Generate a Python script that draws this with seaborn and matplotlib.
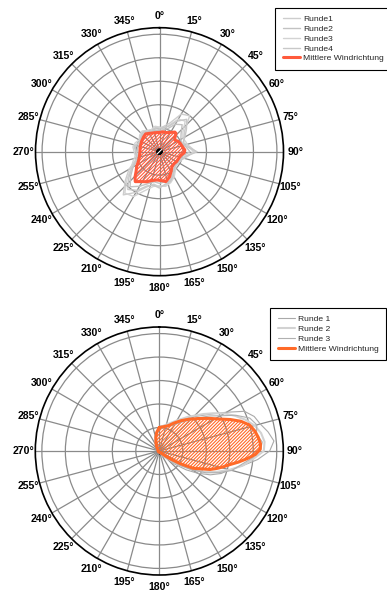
import numpy as np
import pandas as pd
import matplotlib
matplotlib.use("Agg")
import matplotlib.pyplot as plt
import seaborn as sns

# ---------------- data ----------------
ring_values = [1, 2, 3, 4, 5]
r_max = 5.28
angle_ticks = list(range(0, 360, 15))
angle_labels = [f"{a}°" for a in angle_ticks]

# top chart: grey rounds (10 degree steps)
top_round_angles = list(range(0, 360, 10))
top_runde1 = [1.00, 1.10, 1.30, 1.85, 2.00, 1.40, 1.20, 1.10, 1.30, 1.55, 1.10, 0.95,
              0.90, 0.85, 0.95, 1.10, 1.30, 1.45, 1.50, 1.40, 1.60, 2.00, 2.40, 1.90,
              1.50, 1.10, 0.95, 1.00, 1.10, 1.00, 0.95, 1.05, 1.10, 1.00, 0.95, 1.05]
top_runde2 = [0.90, 0.95, 1.05, 1.35, 1.50, 1.20, 1.05, 1.00, 1.15, 1.30, 1.00, 0.90,
              0.85, 0.90, 1.00, 1.20, 1.35, 1.30, 1.35, 1.30, 1.45, 1.70, 1.95, 1.60,
              1.30, 1.00, 0.90, 0.92, 0.95, 0.92, 0.90, 0.98, 1.00, 0.95, 0.90, 0.92]
top_runde3 = [1.05, 1.00, 1.20, 1.60, 1.70, 1.30, 1.15, 1.20, 1.25, 1.45, 1.20, 1.00,
              0.95, 0.92, 1.05, 1.25, 1.40, 1.50, 1.45, 1.50, 1.75, 2.20, 2.30, 1.80,
              1.40, 1.20, 1.05, 1.08, 1.15, 1.10, 1.00, 1.10, 1.15, 1.05, 1.00, 1.10]
top_runde4 = [0.95, 1.05, 1.15, 1.50, 1.80, 1.50, 1.25, 1.05, 1.20, 1.60, 1.15, 1.00,
              0.90, 0.88, 0.98, 1.15, 1.35, 1.40, 1.55, 1.45, 1.55, 1.90, 2.10, 1.70,
              1.35, 1.05, 1.00, 1.00, 1.05, 0.98, 0.92, 1.00, 1.08, 0.98, 0.92, 1.00]
top_mean_angles = [0, 10, 21, 30, 38, 42, 48, 53, 60, 68, 78, 86, 92, 100, 110, 120,
                   130, 140, 150, 158, 163, 168, 175, 185, 195, 203, 212, 219, 224,
                   230, 237, 246, 256, 270, 284, 300, 312, 322, 330, 337, 348]
top_mean_r = [0.82, 0.86, 0.87, 0.95, 1.06, 1.05, 0.88, 0.82, 0.90, 0.95, 1.00, 1.08,
              1.06, 0.92, 0.86, 0.84, 0.80, 0.83, 0.98, 1.15, 1.22, 1.30, 1.24, 1.21,
              1.27, 1.39, 1.50, 1.64, 1.50, 1.30, 1.16, 0.98, 0.88, 0.83, 0.85, 0.88,
              0.92, 0.96, 0.90, 0.86, 0.83]
top_labels = ["Runde1", "Runde2", "Runde3", "Runde4"]
top_colors = ["#cdcdcd", "#c2c2c2", "#d3d3d3", "#c8c8c8"]
top_center_angles = list(range(0, 360, 30))
top_center_r = [0.15] * 12

# bottom chart
bot_round_angles = [0, 10, 20, 30, 40, 50, 55, 60, 65, 70, 75, 80, 85, 90, 95, 100,
                    105, 110, 115, 120, 125, 130, 140, 160, 200, 250, 300, 330, 345]
bot_runde1 = [1.05, 1.10, 1.20, 1.45, 1.85, 2.35, 2.75, 3.30, 4.00, 4.30, 4.45, 4.70,
              4.90, 4.70, 4.20, 3.60, 3.10, 2.80, 2.40, 1.90, 1.40, 0.90, 0.30, 0.08,
              0.05, 0.05, 0.06, 0.30, 0.70]
bot_runde2 = [1.00, 1.10, 1.25, 1.50, 1.90, 2.45, 2.80, 3.20, 3.55, 3.90, 4.20, 4.40,
              4.50, 4.45, 4.00, 3.60, 3.10, 2.60, 2.10, 1.50, 1.00, 0.60, 0.25, 0.08,
              0.05, 0.05, 0.06, 0.28, 0.65]
bot_runde3 = [0.95, 1.00, 1.10, 1.30, 1.65, 2.20, 2.60, 3.00, 3.60, 4.10, 4.30, 4.20,
              4.40, 4.30, 3.90, 3.50, 3.20, 2.70, 2.20, 1.60, 1.05, 0.60, 0.25, 0.10,
              0.05, 0.05, 0.07, 0.30, 0.68]
bot_mean_angles = [0, 10, 20, 28, 36, 43, 50, 57, 62, 66, 70, 74, 78, 82, 86, 89, 92,
                   95, 98, 101, 104, 107, 110, 113, 117, 121, 125, 128, 135, 150, 180,
                   220, 270, 310, 330, 340, 346, 352]
bot_mean_r = [1.00, 1.05, 1.15, 1.35, 1.60, 1.85, 2.15, 2.55, 2.90, 3.30, 3.70, 4.00,
              4.15, 4.25, 4.32, 4.30, 4.10, 3.75, 3.40, 3.05, 2.80, 2.55, 2.30, 1.95,
              1.62, 1.05, 0.60, 0.39, 0.15, 0.08, 0.05, 0.05, 0.05, 0.08, 0.25, 0.42,
              0.60, 0.80]
bot_labels = ["Runde 1", "Runde 2", "Runde 3"]
bot_colors = ["#a9a9a9", "#d2d2d2", "#b0b0b0"]
bot_widths = [0.8, 1.5, 0.8]
bot_center_angles = [120, 140, 160, 180, 200, 160]
bot_center_r = [0.05, 0.18, 0.2, 0.15, 0.05, 0.02]

top_mean_color = "#ff5a3c"
bot_mean_color = "#ff6a28"

# ---------------- style ----------------
sns.set_theme(style="white")
plt.rcParams["font.family"] = ["Liberation Sans", "DejaVu Sans"]
plt.rcParams["hatch.linewidth"] = 0.8

fig = plt.figure(figsize=(3.87, 5.93), dpi=100)
ax_top = fig.add_axes([35.5 / 387, 317.3 / 593, 248 / 387, 248 / 593], projection="polar")
ax_bot = fig.add_axes([35.3 / 387, 18.0 / 593, 248 / 387, 248 / 593], projection="polar")


def closed(angles, radii):
    th = np.deg2rad(list(angles) + [angles[0]])
    rr = list(radii) + [radii[0]]
    return th, rr


def draw(ax, round_angles, rounds, labels, colors, widths, mean_angles, mean_r,
         mean_color, c_angles, c_r):
    th, rr = closed(mean_angles, mean_r)
    ax.fill(th, rr, facecolor="none", edgecolor=mean_color, hatch="//////////", lw=0, zorder=2)
    cth, cr = closed(c_angles, c_r)
    ax.fill(cth, cr, facecolor="black", edgecolor="white", hatch="//////", lw=0, zorder=2)
    for vals, lab, col, w in zip(rounds, labels, colors, widths):
        t, r = closed(round_angles, vals)
        df = pd.DataFrame({"theta": t, "r": r})
        sns.lineplot(data=df, x="theta", y="r", sort=False, estimator=None, ax=ax,
                     color=col, lw=w, label=lab, zorder=3)
    df = pd.DataFrame({"theta": th, "r": rr})
    sns.lineplot(data=df, x="theta", y="r", sort=False, estimator=None, ax=ax,
                 color=mean_color, lw=2.2, label="Mittlere Windrichtung", zorder=4)

    ax.set_theta_zero_location("N")
    ax.set_theta_direction(-1)
    ax.set_ylim(0, r_max)
    ax.set_yticks(ring_values)
    ax.set_yticklabels([])
    ax.set_xticks(np.deg2rad(angle_ticks))
    ax.set_xticklabels(angle_labels, fontsize=7.6, fontweight="bold", color="black")
    ax.grid(True, color="#8a8a8a", lw=0.9)
    ax.spines["polar"].set_color("black")
    ax.spines["polar"].set_linewidth(1.2)
    ax.tick_params(axis="x", direction="in", length=4, width=0.8, color="black", pad=1.5)
    ax.set_xlabel("")
    ax.set_ylabel("")
    ax.set_facecolor("white")
    h, l = ax.get_legend_handles_labels()
    ax.get_legend().remove()
    return h, l


h1, l1 = draw(ax_top, top_round_angles, [top_runde1, top_runde2, top_runde3, top_runde4],
              top_labels, top_colors, [1.0] * 4, top_mean_angles, top_mean_r,
              top_mean_color, top_center_angles, top_center_r)
h2, l2 = draw(ax_bot, bot_round_angles, [bot_runde1, bot_runde2, bot_runde3],
              bot_labels, bot_colors, bot_widths, bot_mean_angles, bot_mean_r,
              bot_mean_color, bot_center_angles, bot_center_r)

for h, l, anchor in [(h1, l1, (275 / 387, 1 - 7.7 / 593)), (h2, l2, (270 / 387, 1 - 307.7 / 593))]:
    leg = fig.legend(h, l, loc="upper left", bbox_to_anchor=anchor, fontsize=6.1,
                     frameon=True, fancybox=False, framealpha=1, edgecolor="black",
                     borderpad=0.9, labelspacing=0.22, handlelength=2.0,
                     handletextpad=0.4, borderaxespad=0)
    leg.get_frame().set_linewidth(0.8)

fig.savefig("out.png", dpi=100)
